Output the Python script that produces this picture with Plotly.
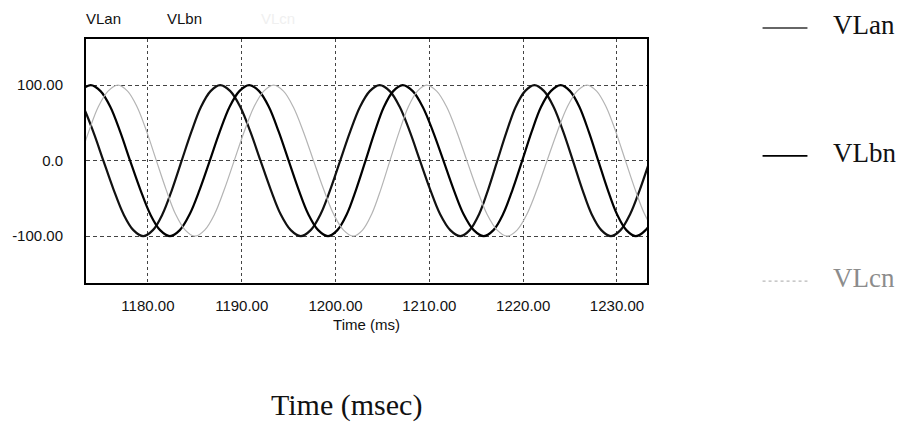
import plotly.graph_objects as go

# Line-to-neutral voltages, (time ms, volts) samples every ~1/16 cycle
VLan_pts = [
    (1166.8, 0), (1167.85, 38), (1168.9, 71), (1169.95, 92), (1171.0, 100),
    (1172.05, 92), (1173.1, 71), (1174.18, 38), (1175.25, 0), (1176.33, -38),
    (1177.4, -71), (1178.45, -92), (1179.5, -100), (1180.53, -92), (1181.55, -71),
    (1182.58, -38), (1183.6, 0), (1184.63, 38), (1185.65, 71), (1186.68, 92),
    (1187.7, 100), (1188.78, 92), (1189.85, 71), (1190.93, 38), (1192.0, 0),
    (1193.08, -38), (1194.15, -71), (1195.23, -92), (1196.3, -100), (1197.35, -92),
    (1198.4, -71), (1199.45, -38), (1200.5, 0), (1201.55, 38), (1202.6, 71),
    (1203.65, 92), (1204.7, 100), (1205.78, 92), (1206.85, 71), (1207.93, 38),
    (1209.0, 0), (1210.08, -38), (1211.15, -71), (1212.23, -92), (1213.3, -100),
    (1214.3, -92), (1215.3, -71), (1216.28, -38), (1217.25, 0), (1218.23, 38),
    (1219.2, 71), (1220.2, 92), (1221.2, 100), (1222.23, 92), (1223.25, 71),
    (1224.28, 38), (1225.3, 0), (1226.3, -38), (1227.3, -71), (1228.33, -92),
    (1229.35, -100), (1230.38, -92), (1231.4, -71), (1232.45, -38), (1233.5, 0),
    (1234.55, 38), (1235.6, 71),
]
VLbn_pts = [
    (1165.5, -100), (1166.55, -92), (1167.6, -71), (1168.65, -38), (1169.7, 0),
    (1170.75, 38), (1171.8, 71), (1172.85, 92), (1173.9, 100), (1174.95, 92),
    (1176.0, 71), (1177.05, 38), (1178.1, 0), (1179.18, -38), (1180.25, -71),
    (1181.3, -92), (1182.35, -100), (1183.4, -92), (1184.45, -71), (1185.53, -38),
    (1186.6, 0), (1187.65, 38), (1188.7, 71), (1189.75, 92), (1190.8, 100),
    (1191.85, 92), (1192.9, 71), (1193.95, 38), (1195.0, 0), (1196.05, -38),
    (1197.1, -71), (1198.15, -92), (1199.2, -100), (1200.2, -92), (1201.2, -71),
    (1202.2, -38), (1203.2, 0), (1204.18, 38), (1205.15, 71), (1206.15, 92),
    (1207.15, 100), (1208.23, 92), (1209.3, 71), (1210.4, 38), (1211.5, 0),
    (1212.58, -38), (1213.65, -71), (1214.73, -92), (1215.8, -100), (1216.83, -92),
    (1217.85, -71), (1218.88, -38), (1219.9, 0), (1220.9, 38), (1221.9, 71),
    (1222.95, 92), (1224.0, 100), (1225.0, 92), (1226.0, 71), (1227.0, 38),
    (1228.0, 0), (1229.0, -38), (1230.0, -71), (1231.0, -92), (1232.0, -100),
    (1233.05, -92), (1234.1, -71), (1235.15, -38), (1236.2, 0),
]
VLcn_pts = [
    (1168.5, -100), (1169.55, -92), (1170.6, -71), (1171.63, -38), (1172.65, 0),
    (1173.68, 38), (1174.7, 71), (1175.75, 92), (1176.8, 100), (1177.83, 92),
    (1178.85, 71), (1179.88, 38), (1180.9, 0), (1181.93, -38), (1182.95, -71),
    (1183.98, -92), (1185.0, -100), (1186.05, -92), (1187.1, -71), (1188.15, -38),
    (1189.2, 0), (1190.25, 38), (1191.3, 71), (1192.35, 92), (1193.4, 100),
    (1194.45, 92), (1195.5, 71), (1196.58, 38), (1197.65, 0), (1198.73, -38),
    (1199.8, -71), (1200.85, -92), (1201.9, -100), (1202.88, -92), (1203.85, -71),
    (1204.83, -38), (1205.8, 0), (1206.78, 38), (1207.75, 71), (1208.73, 92),
    (1209.7, 100), (1210.78, 92), (1211.85, 71), (1212.93, 38), (1214.0, 0),
    (1215.08, -38), (1216.15, -71), (1217.23, -92), (1218.3, -100), (1219.35, -92),
    (1220.4, -71), (1221.48, -38), (1222.55, 0), (1223.63, 38), (1224.7, 71),
    (1225.75, 92), (1226.8, 100), (1227.83, 92), (1228.85, 71), (1229.88, 38),
    (1230.9, 0), (1231.93, -38), (1232.95, -71), (1233.98, -92), (1235.0, -100),
]

x_ticks = [1180, 1190, 1200, 1210, 1220, 1230]
y_ticks = [-100, 0, 100]
y_tick_text = ["-100.00", "0.0", "100.00"]

series_names = ["VLan", "VLbn", "VLcn"]
series_colors = ["#111111", "#000000", "#b4b4b4"]
series_widths = [2.2, 2.2, 1.2]

SANS = "Liberation Sans, Arial, sans-serif"
SERIF = "Liberation Serif, Times New Roman, serif"

fig = go.Figure()
for name, pts, col, w in zip(series_names, [VLan_pts, VLbn_pts, VLcn_pts],
                             series_colors, series_widths):
    xs = [p[0] for p in pts]
    ys = [p[1] for p in pts]
    fig.add_trace(go.Scatter(x=xs, y=ys, name=name, mode="lines", showlegend=False,
                             line=dict(color=col, width=w, shape="spline", smoothing=1.0)))

# Key on the right: sample line + serif label for each series
key_y = [1.057, 0.533, 0.02]
key_line = [dict(color="#333333", width=1.5), dict(color="#000000", width=1.8),
            dict(color="#b8b8b8", width=1.2, dash="dot")]
key_text_color = ["#111111", "#111111", "#8c8c8c"]
shapes = []
annotations = []
for name, ky, ln, tc in zip(series_names, key_y, key_line, key_text_color):
    shapes.append(dict(type="line", xref="paper", yref="paper",
                       x0=1.206, x1=1.286, y0=ky - 0.012, y1=ky - 0.012, line=ln))
    annotations.append(dict(text=name, xref="paper", yref="paper", x=1.3286, y=ky,
                            xanchor="left", yanchor="middle", showarrow=False,
                            font=dict(family=SERIF, size=27, color=tc)))

# Series captions above the plot frame
for name, kx, tc in zip(series_names, [-0.004, 0.1403, 0.309],
                        ["#111111", "#111111", "#f0f0f0"]):
    annotations.append(dict(text=name, xref="paper", yref="paper", x=kx, y=1.086,
                            xanchor="left", yanchor="middle", showarrow=False,
                            font=dict(family=SANS, size=15, color=tc)))

annotations.append(dict(text="Time (msec)", xref="paper", yref="paper", x=0.4636, y=-0.5,
                        xanchor="center", yanchor="middle", showarrow=False,
                        font=dict(family=SERIF, size=30, color="#111111")))

fig.update_layout(
    width=910, height=429,
    margin=dict(l=84, r=263, t=39, b=146, pad=0),
    paper_bgcolor="white", plot_bgcolor="white",
    font=dict(family=SANS, size=15, color="#111111"),
    showlegend=False,
    xaxis=dict(range=[1173.4, 1233.2], tickvals=x_ticks, tickformat=".2f",
               showgrid=True, gridcolor="#444444", gridwidth=1, griddash="3px,3px",
               zeroline=False, showline=True, linecolor="black", linewidth=2, mirror=True,
               ticks="", ticklabelstandoff=8,
               title=dict(text="Time (ms)", font=dict(family=SANS, size=15), standoff=6)),
    yaxis=dict(range=[-162, 161], tickvals=y_ticks, ticktext=y_tick_text,
               showgrid=True, gridcolor="#444444", gridwidth=1, griddash="4px,3px",
               zeroline=False, showline=True, linecolor="black", linewidth=2, mirror=True,
               ticks="", ticklabelstandoff=18),
    shapes=shapes,
    annotations=annotations,
)

fig.write_html("out.html")
